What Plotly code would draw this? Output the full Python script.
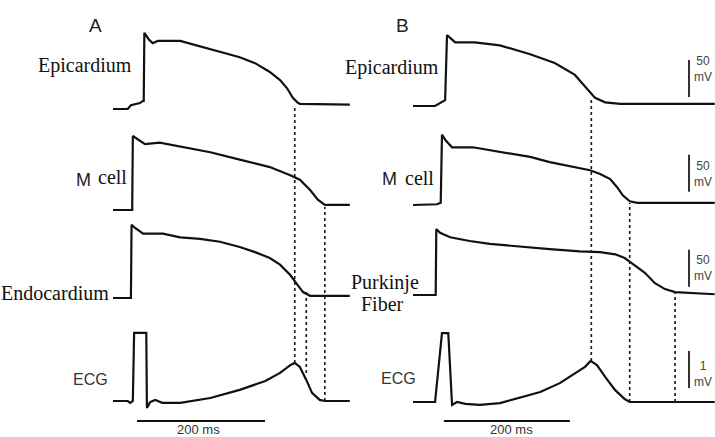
import plotly.graph_objects as go

W, H = 715, 437

# ---------------- data (time in ms, potential in mV) ----------------
# Panel A
epiA_t = [0, 23, 28, 42, 47, 48, 49, 56, 62, 70, 105, 136, 167, 198, 222, 245, 261, 272, 281, 288, 292, 323, 370]
epiA_v = [-85, -85, -80, -77, -74, -74, 18, 9, 4, 7, 7, 0, -7, -15, -23, -35, -46, -57, -70, -76, -78, -78, -79]

mA_t = [0, 30, 31, 38, 50, 73, 105, 152, 198, 245, 277, 292, 308, 320, 331, 347, 370]
mA_v = [-85, -85, 15, 11, 4, 6, 1, -7, -17, -27, -38, -44, -58, -71, -78, -78, -78]

endoA_t = [0, 28, 29, 34, 47, 78, 105, 136, 167, 198, 222, 245, 261, 277, 288, 297, 308, 370]
endoA_v = [-85, -85, 14, 10, 2, 2, -3, -5, -9, -16, -23, -31, -40, -54, -67, -77, -82, -82]

ecgA_t = [0, 23, 27, 31, 33, 48, 52, 53, 58, 66, 77, 105, 152, 198, 238, 261, 277, 284, 292, 302, 311, 323, 331, 370]
ecgA_v = [0, 0, -0.05, 0, 1.84, 1.84, 1.84, -0.19, -0.03, 0.03, -0.05, -0.05, 0.08, 0.30, 0.54, 0.76, 0.97, 1.03, 0.92, 0.57, 0.22, 0.03, 0, 0]

# Panel B
epiB_t = [0, 35, 51, 54, 59, 67, 98, 138, 186, 225, 257, 276, 289, 305, 329, 479]
epiB_v = [-85, -85, -77, 11, 7, 1, 1, -3, -15, -27, -43, -61, -74, -80, -82, -82]

mB_t = [0, 38, 44, 46, 52, 62, 95, 122, 154, 186, 217, 249, 281, 297, 313, 324, 333, 344, 356, 479]
mB_v = [-85, -84, -82, 10, 2, -7, -7, -11, -15, -20, -27, -32, -38, -43, -50, -61, -72, -80, -82, -82]

purB_t = [0, 36, 37, 43, 59, 90, 122, 170, 217, 265, 297, 321, 336, 352, 368, 384, 400, 416, 440, 479]
purB_v = [-85, -85, 4, -1, -7, -12, -16, -20, -23, -26, -27, -30, -35, -45, -55, -69, -77, -81, -82, -84]

ecgB_t = [0, 35, 46, 56, 62, 70, 83, 106, 138, 170, 202, 233, 257, 273, 282, 292, 305, 321, 336, 344, 479]
ecgB_v = [0, 0, 1.86, 1.86, -0.08, 0, -0.05, -0.08, -0.03, 0.11, 0.27, 0.51, 0.78, 0.95, 1.11, 1.0, 0.68, 0.32, 0.08, 0, 0]

# repolarisation markers (ms) and scale bars
dotsA_t = [284, 302, 331]
dotsB_t = [283, 344, 416]
timebarA = [37.5, 237.5]
timebarB = [49, 249]
timebar_label = "200 ms"

# ---------------- layout helpers ----------------
MV_PER_PX = 50 / 37.0
ECG_PER_PX = 1 / 37.0


def px(x):
    return x / W


def py(y):
    return 1 - y / H


def yax(base_px, top_px, bot_px, rest, per_px, anchor):
    return dict(domain=[py(bot_px), py(top_px)],
                range=[rest - (bot_px - base_px) * per_px, rest + (base_px - top_px) * per_px],
                visible=False, showgrid=False, zeroline=False, anchor=anchor, fixedrange=True)


fig = go.Figure()
LINE = dict(color="#111111", width=2.2)

traces = [
    (epiA_t, epiA_v, "x", "y"), (mA_t, mA_v, "x", "y2"), (endoA_t, endoA_v, "x", "y3"), (ecgA_t, ecgA_v, "x", "y4"),
    (epiB_t, epiB_v, "x2", "y5"), (mB_t, mB_v, "x2", "y6"), (purB_t, purB_v, "x2", "y7"), (ecgB_t, ecgB_v, "x2", "y8"),
]
for t, v, xa, ya in traces:
    fig.add_trace(go.Scatter(x=t, y=v, mode="lines", line=LINE, xaxis=xa, yaxis=ya,
                             hoverinfo="skip", showlegend=False, cliponaxis=False))

layout = dict(
    width=W, height=H, margin=dict(l=0, r=0, t=0, b=0),
    paper_bgcolor="white", plot_bgcolor="white", showlegend=False,
    xaxis=dict(domain=[px(113), px(350)], range=[0, (350 - 113) / 0.64], visible=False, anchor="y4"),
    xaxis2=dict(domain=[px(413), px(715)], range=[0, (715 - 413) / 0.63], visible=False, anchor="y8"),
    yaxis=yax(109, 25, 115, -85, MV_PER_PX, "x"),
    yaxis2=yax(210, 125, 216, -85, MV_PER_PX, "x"),
    yaxis3=yax(298, 218, 306, -85, MV_PER_PX, "x"),
    yaxis4=yax(401, 322, 414, 0, ECG_PER_PX, "x"),
    yaxis5=yax(106, 25, 112, -85, MV_PER_PX, "x2"),
    yaxis6=yax(205, 125, 212, -85, MV_PER_PX, "x2"),
    yaxis7=yax(295, 218, 302, -85, MV_PER_PX, "x2"),
    yaxis8=yax(402, 322, 414, 0, ECG_PER_PX, "x2"),
)
fig.update_layout(**layout)

shapes = []
DOT = dict(color="#222222", width=1.7, dash="dot")
# dotted lines (y spans in px)
spansA = [(105, 363), (292, 373), (207, 401)]
spansB = [(100, 361), (203, 402), (292, 402)]
for t, (a, b) in zip(dotsA_t, spansA):
    shapes.append(dict(type="line", xref="x", yref="paper", x0=t, x1=t, y0=py(b), y1=py(a), line=DOT))
for t, (a, b) in zip(dotsB_t, spansB):
    shapes.append(dict(type="line", xref="x2", yref="paper", x0=t, x1=t, y0=py(b), y1=py(a), line=DOT))

# time bars
shapes.append(dict(type="line", xref="x", yref="paper", x0=timebarA[0], x1=timebarA[1], y0=py(421), y1=py(421),
                   line=dict(color="#111", width=2)))
shapes.append(dict(type="line", xref="x2", yref="paper", x0=timebarB[0], x1=timebarB[1], y0=py(421), y1=py(421),
                   line=dict(color="#111", width=2)))

# voltage scale bars (50 mV / 1 mV)
vbars = [("y5", -73, -23), ("y6", -67, -17), ("y7", -74, -24), ("y8", 0.38, 1.38)]
for ya, a, b in vbars:
    shapes.append(dict(type="line", xref="paper", yref=ya, x0=px(689), x1=px(689), y0=a, y1=b,
                       line=dict(color="#333", width=2)))
fig.update_layout(shapes=shapes)

SERIF = "Liberation Serif, Times New Roman, serif"
SANS = "Liberation Sans, Arial, sans-serif"
anns = []


def ann(text, x, y, size, family, color="#111", xanchor="center"):
    anns.append(dict(text=text, x=px(x), y=py(y), xref="paper", yref="paper", showarrow=False,
                     xanchor=xanchor, yanchor="middle", font=dict(size=size, family=family, color=color)))


ann("A", 95, 25, 19, SANS, "#222")
ann("B", 402, 25, 19, SANS, "#222")
ann("Epicardium", 85, 66, 20, SERIF)
ann("M", 83, 180, 18, SANS, "#222")
ann("cell", 113, 177, 20, SERIF)
ann("Endocardium", 111, 293, 20, SERIF, xanchor="right")
ann("ECG", 91, 379, 16, SANS, "#333")
ann("Epicardium", 441, 67, 20, SERIF, xanchor="right")
ann("M", 389, 179, 18, SANS, "#222")
ann("cell", 419, 178, 20, SERIF)
ann("Purkinje", 385, 282, 20, SERIF)
ann("Fiber", 382, 304, 20, SERIF)
ann("ECG", 398, 378, 16, SANS, "#333")
ann(timebar_label, 198, 429, 13, SANS, "#333")
ann(timebar_label, 511, 429, 13, SANS, "#333")
for lab, yy in [("50<br>mV", 69), ("50<br>mV", 174), ("50<br>mV", 268), ("1<br>mV", 374)]:
    ann(lab, 692, yy, 12, SANS, "#444", xanchor="left")
fig.update_layout(annotations=anns)

fig.write_html("out.html", config={"displayModeBar": False, "staticPlot": True})

# remove the browser's default page margin so the figure sits at (0, 0)
with open("out.html", "r", encoding="utf-8") as f:
    html = f.read()
html = html.replace("<head>", "<head><style>html,body{margin:0;padding:0;overflow:hidden;}</style>", 1)
with open("out.html", "w", encoding="utf-8") as f:
    f.write(html)
